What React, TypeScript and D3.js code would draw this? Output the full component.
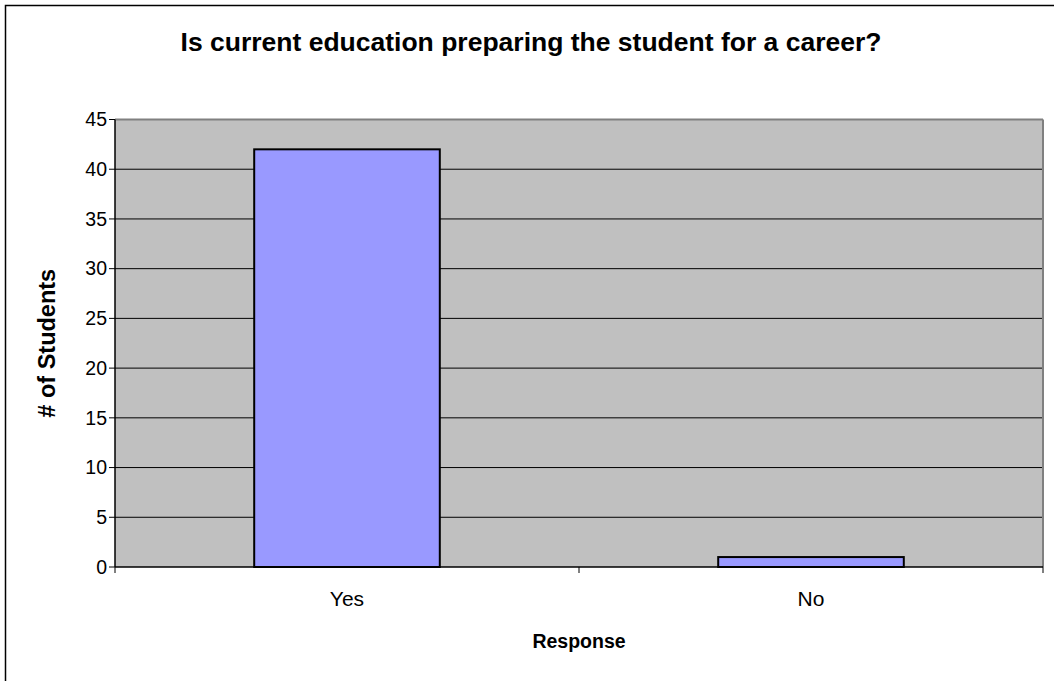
import React from "react";
import * as d3 from "d3";

const categories: string[] = ["Yes", "No"];
const values: number[] = [42, 1];
const yTicks: number[] = [0, 5, 10, 15, 20, 25, 30, 35, 40, 45];
const title = "Is current education preparing the student for a career?";
const xTitle = "Response";
const yTitle = "# of Students";

export default function App() {
  const W = 1054;
  const H = 681;
  const left = 115;
  const right = 1043;
  const top = 119.5;
  const bottom = 567;

  const x = d3
    .scaleBand<string>()
    .domain(categories)
    .range([left, right])
    .paddingInner(0.6)
    .paddingOuter(0.3);
  const y = d3.scaleLinear().domain([0, 45]).range([bottom, top]);
  const step = x.step();
  const boundaries = d3.range(categories.length + 1).map((i) => left + i * step);
  const font = "Arial, 'Liberation Sans', sans-serif";

  return (
    <svg
      width={W}
      height={H}
      style={{ position: "absolute", left: 0, top: 0, background: "#fff" }}
      fontFamily={font}
    >
      <rect x={0} y={0} width={W} height={H} fill="#fff" />
      <rect x={5.5} y={5.5} width={1100} height={720} fill="none" stroke="#000" strokeWidth={1.5} />
      <text x={531} y={51} textAnchor="middle" fontSize={26.5} fontWeight="bold" fill="#000">
        {title}
      </text>
      <rect x={left} y={top} width={right - left} height={bottom - top} fill="#C0C0C0" />
      {yTicks.filter((t) => t > 0).map((t) => (
        <line key={"g" + t} x1={left} x2={right} y1={y(t)} y2={y(t)} stroke="#000" strokeWidth={1} />
      ))}
      <line x1={left} x2={right} y1={top} y2={top} stroke="#808080" strokeWidth={2} />
      <line x1={right} x2={right} y1={top} y2={bottom} stroke="#808080" strokeWidth={2} />
      {categories.map((c, i) => (
        <rect
          key={c}
          x={x(c)}
          y={y(values[i])}
          width={x.bandwidth()}
          height={y(0) - y(values[i])}
          fill="#9999FF"
          stroke="#000"
          strokeWidth={2}
        />
      ))}
      <line x1={left} x2={left} y1={top} y2={bottom} stroke="#000" strokeWidth={1.5} />
      <line x1={left} x2={right} y1={bottom} y2={bottom} stroke="#000" strokeWidth={1.5} />
      {yTicks.map((t) => (
        <g key={"t" + t}>
          <line x1={left - 6} x2={left} y1={y(t)} y2={y(t)} stroke="#000" strokeWidth={1} />
          <text x={left - 8} y={y(t)} dy="0.35em" textAnchor="end" fontSize={19.5} fill="#000">
            {t}
          </text>
        </g>
      ))}
      {boundaries.map((b, i) => (
        <line key={"xb" + i} x1={b} x2={b} y1={bottom} y2={bottom + 6} stroke="#000" strokeWidth={1} />
      ))}
      {categories.map((c) => (
        <text key={"xl" + c} x={(x(c) as number) + x.bandwidth() / 2} y={606} textAnchor="middle" fontSize={21} fill="#000">
          {c}
        </text>
      ))}
      <text x={(left + right) / 2} y={648} textAnchor="middle" fontSize={19.5} fontWeight="bold" fill="#000">
        {xTitle}
      </text>
      <text
        transform={`translate(55,${(top + bottom) / 2}) rotate(-90)`}
        textAnchor="middle"
        fontSize={23.5}
        fontWeight="bold"
        fill="#000"
      >
        {yTitle}
      </text>
    </svg>
  );
}
